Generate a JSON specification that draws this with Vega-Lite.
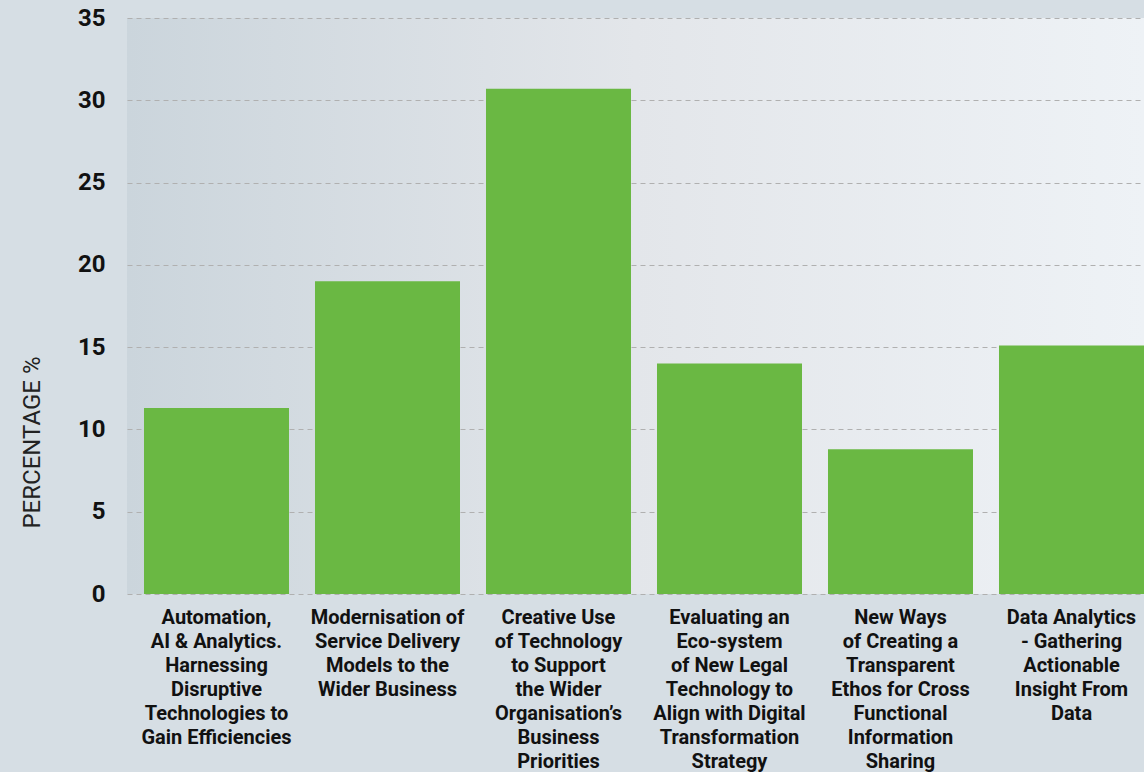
{
  "$schema": "https://vega.github.io/schema/vega-lite/v6.json",
  "autosize": {"type": "none"},
  "padding": {"left": 127, "top": 18, "right": 0, "bottom": 178},
  "width": 1017,
  "height": 576,
  "background": "#d6dee4",
  "config": {
    "view": {"stroke": null, "fill": {"gradient": "linear", "x1": 0, "y1": 0, "x2": 1, "y2": 0, "stops": [{"offset": 0, "color": "#cbd5dc"}, {"offset": 0.5, "color": "#e3e6ea"}, {"offset": 1, "color": "#eef2f6"}]}},
    "font": "Roboto"
  },
  "data": {
    "values": [
      {"topic": "Automation,|AI & Analytics.|Harnessing|Disruptive|Technologies to|Gain Efficiencies", "pct": 11.3},
      {"topic": "Modernisation of|Service Delivery|Models to the|Wider Business", "pct": 19.0},
      {"topic": "Creative Use|of Technology|to Support|the Wider|Organisation’s|Business|Priorities", "pct": 30.7},
      {"topic": "Evaluating an|Eco-system|of New Legal|Technology to|Align with Digital|Transformation|Strategy", "pct": 14.0},
      {"topic": "New Ways|of Creating a|Transparent|Ethos for Cross|Functional|Information|Sharing", "pct": 8.8},
      {"topic": "Data Analytics|- Gathering|Actionable|Insight From|Data", "pct": 15.1}
    ]
  },
  "mark": {"type": "bar", "color": "#6ab843"},
  "encoding": {
    "x": {
      "field": "topic",
      "type": "nominal",
      "sort": null,
      "scale": {"paddingInner": 0.152, "paddingOuter": 0.0497, "align": 1},
      "axis": {
        "title": null,
        "labelAngle": 0,
        "labelExpr": "split(datum.value, '|')",
        "labelFont": "Roboto",
        "labelFontWeight": "bold",
        "labelFontSize": 20,
        "labelColor": "#111111",
        "labelLineHeight": 24,
        "labelBaseline": "top",
        "labelPadding": 13,
        "labelLimit": 0,
        "ticks": false,
        "domain": false,
        "grid": false
      }
    },
    "y": {
      "field": "pct",
      "type": "quantitative",
      "scale": {"domain": [0, 35], "nice": false},
      "axis": {
        "title": "PERCENTAGE %",
        "titleFont": "Roboto",
        "titleFontWeight": "normal",
        "titleFontSize": 24,
        "titleColor": "#222222",
        "titleX": -95,
        "titleY": 424,
        "titleAngle": -90,
        "titleAlign": "center",
        "titleBaseline": "middle",
        "values": [0, 5, 10, 15, 20, 25, 30, 35],
        "labelFont": "Roboto",
        "labelFontWeight": "bold",
        "labelFontSize": 24,
        "labelColor": "#111111",
        "labelPadding": 22,
        "ticks": false,
        "domain": false,
        "grid": true,
        "gridColor": "#b0b0b0",
        "gridDash": [5, 4],
        "gridWidth": 1
      }
    }
  }
}
